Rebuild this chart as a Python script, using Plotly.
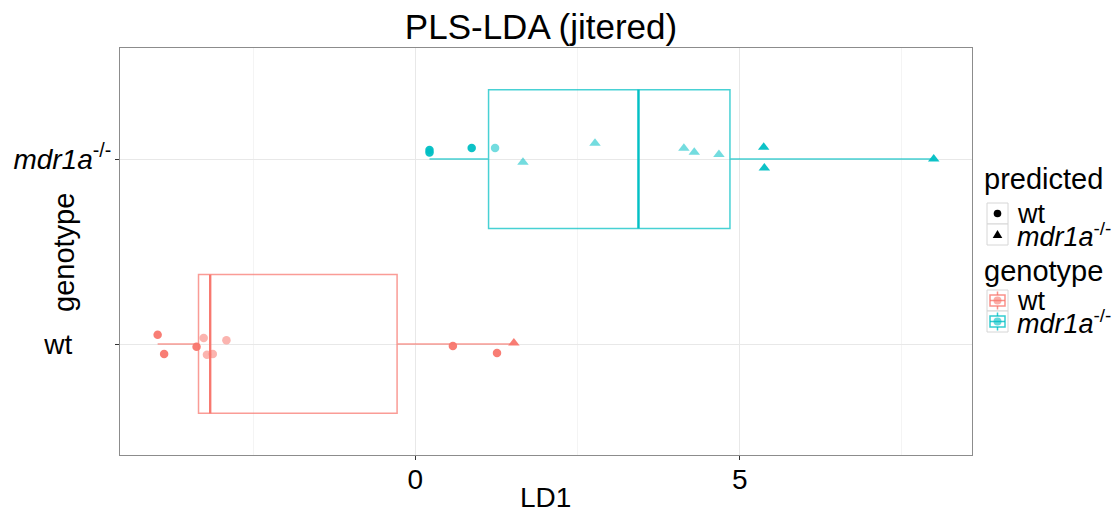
import plotly.graph_objects as go

# ---------------- data ----------------
genotypes = ["wt", "mdr1a"]
genotype_labels = ["wt", "<i>mdr1a</i><sup>-/-</sup>"]
genotype_pos = [1, 2]
legend_titles = ["predicted", "genotype"]

# jittered points, wt genotype
wt_ld1 = [-3.97, -3.87, -3.37, -3.26, -2.91, -3.21, -3.12, 0.58, 1.26, 1.52]
wt_jitter = [0.050, -0.054, -0.015, 0.032, 0.020, -0.058, -0.054, -0.011, -0.049, 0.005]
wt_pred = ["wt", "wt", "wt", "wt", "wt", "wt", "wt", "wt", "wt", "mdr1a"]
wt_alpha = [0.95, 0.95, 0.95, 0.55, 0.55, 0.55, 0.55, 0.95, 0.95, 0.95]

# jittered points, mdr1a genotype
mdr_ld1 = [0.22, 0.22, 0.87, 1.23, 1.66, 2.77, 4.14, 4.30, 4.68, 5.37, 5.38, 7.99]
mdr_jitter = [0.049, 0.035, 0.059, 0.059, -0.018, 0.085, 0.058, 0.036, 0.024, 0.063, -0.049, 0.0]
mdr_pred = ["wt", "wt", "wt", "wt", "mdr1a", "mdr1a", "mdr1a", "mdr1a", "mdr1a", "mdr1a", "mdr1a", "mdr1a"]
mdr_alpha = [0.95, 0.95, 0.95, 0.55, 0.55, 0.55, 0.55, 0.55, 0.55, 0.95, 0.95, 0.95]

# box statistics (min, q1, median, q3, max) per genotype
box_min = [-3.97, 0.22]
box_q1 = [-3.34, 1.13]
box_median = [-3.16, 3.44]
box_q3 = [-0.28, 4.85]
box_max = [1.52, 7.99]

x_ticks = [0, 5]

# ---------------- styling ----------------
FONT = "Liberation Sans, Arial, sans-serif"
OFF = 8                     # page body margin offset in the browser
W, H = 1120 - OFF, 516 - OFF
PL, PR, PT, PB = 120, 972, 48, 455   # panel edges in screen pixels
col_rgb = {"wt": (248, 118, 109), "mdr1a": (0, 191, 196)}
symbols = {"wt": "circle", "mdr1a": "triangle-up"}
sizes = {"wt": 8.5, "mdr1a": 10}
BOX_W = 0.75


def rgba(rgb, a):
    return "rgba(%d,%d,%d,%.2f)" % (rgb[0], rgb[1], rgb[2], a)


def px(x):
    return (x - PL) / (PR - PL)


def py(y):
    return (PB - y) / (PB - PT)


fig = go.Figure()

# boxes
for i, g in enumerate(genotypes):
    fig.add_trace(go.Box(
        orientation="h",
        y=[genotype_pos[i]],
        q1=[box_q1[i]], median=[box_median[i]], q3=[box_q3[i]],
        lowerfence=[box_min[i]], upperfence=[box_max[i]],
        width=BOX_W, whiskerwidth=0,
        fillcolor="rgba(0,0,0,0)",
        line=dict(color=rgba(col_rgb[g], 0.72), width=1.5),
        name=genotype_labels[i],
        hoverinfo="skip",
    ))
    # thicker median line, as in the reference
    fig.add_trace(go.Scatter(
        x=[box_median[i], box_median[i]],
        y=[genotype_pos[i] - BOX_W / 2, genotype_pos[i] + BOX_W / 2],
        mode="lines", line=dict(color=rgba(col_rgb[g], 0.95), width=2.4),
        hoverinfo="skip",
    ))

# points
groups = [
    ("wt", 1, wt_ld1, wt_jitter, wt_pred, wt_alpha),
    ("mdr1a", 2, mdr_ld1, mdr_jitter, mdr_pred, mdr_alpha),
]
for g, pos, xs, js, preds, alphas in groups:
    for p in ["wt", "mdr1a"]:
        idx = [k for k in range(len(xs)) if preds[k] == p]
        if not idx:
            continue
        fig.add_trace(go.Scatter(
            x=[xs[k] for k in idx],
            y=[pos + js[k] for k in idx],
            mode="markers",
            marker=dict(symbol=symbols[p], size=sizes[p],
                        color=[rgba(col_rgb[g], alphas[k]) for k in idx],
                        line=dict(width=0)),
        ))

# ---------------- legend (drawn as annotations + shapes) ----------------
annotations = []
shapes = []
KEY_L, KEY_R, KEY_H = 987, 1008, 21
TXT_X = 1015
legend_blocks = [(179, 203), (271, 290)]   # title centre y, first key top y
for b, (ty, ktop) in enumerate(legend_blocks):
    annotations.append(dict(text=legend_titles[b], xref="paper", yref="paper",
                            x=px(982), y=py(ty), xanchor="left", yanchor="middle",
                            showarrow=False, font=dict(size=29, family=FONT, color="black")))
    for i, g in enumerate(genotypes):
        top = ktop + i * KEY_H
        cy = top + KEY_H / 2
        cx = (KEY_L + KEY_R) / 2
        shapes.append(dict(type="rect", xref="paper", yref="paper",
                           x0=px(KEY_L), x1=px(KEY_R), y0=py(top), y1=py(top + KEY_H),
                           line=dict(color="#D6D6D6", width=1), fillcolor="white"))
        if b == 0:
            if g == "wt":
                shapes.append(dict(type="circle", xref="paper", yref="paper",
                                   x0=px(cx - 3.8), x1=px(cx + 3.8), y0=py(cy - 3.8), y1=py(cy + 3.8),
                                   line=dict(width=0), fillcolor="black"))
            else:
                path = "M %f %f L %f %f L %f %f Z" % (
                    px(cx - 4.8), py(cy + 3.6), px(cx + 4.8), py(cy + 3.6), px(cx), py(cy - 4.6))
                shapes.append(dict(type="path", xref="paper", yref="paper", path=path,
                                   line=dict(width=0), fillcolor="black"))
        else:
            c = rgba(col_rgb[g], 0.8)
            shapes.append(dict(type="line", xref="paper", yref="paper",
                               x0=px(cx), x1=px(cx), y0=py(top + 1.5), y1=py(top + KEY_H - 1.5),
                               line=dict(color=c, width=1.5)))
            shapes.append(dict(type="rect", xref="paper", yref="paper",
                               x0=px(cx - 7.5), x1=px(cx + 7.5), y0=py(cy - 5.5), y1=py(cy + 5.5),
                               line=dict(color=c, width=1.5), fillcolor="white"))
            shapes.append(dict(type="line", xref="paper", yref="paper",
                               x0=px(cx - 7.5), x1=px(cx + 7.5), y0=py(cy), y1=py(cy),
                               line=dict(color=c, width=1.5)))
            shapes.append(dict(type="circle", xref="paper", yref="paper",
                               x0=px(cx - 4), x1=px(cx + 4), y0=py(cy - 4), y1=py(cy + 4),
                               line=dict(width=0), fillcolor=rgba(col_rgb[g], 0.6)))
        annotations.append(dict(text=genotype_labels[i], xref="paper", yref="paper",
                                x=px(TXT_X), y=py(cy), xanchor="left", yanchor="middle",
                                showarrow=False, font=dict(size=27, family=FONT, color="black")))

# axis titles
annotations.append(dict(text="genotype", xref="paper", yref="paper", x=px(64), y=py(252),
                        xanchor="center", yanchor="middle", textangle=-90, showarrow=False,
                        font=dict(size=29, family=FONT, color="black")))
annotations.append(dict(text="LD1", xref="paper", yref="paper", x=px(545), y=py(497),
                        xanchor="center", yanchor="middle", showarrow=False,
                        font=dict(size=28, family=FONT, color="black")))

# y tick labels: ggplot centred them, emulate with trailing no-break spaces on "wt"
y_ticktext = [genotype_labels[0] + "\u00a0" * 5, genotype_labels[1]]

fig.update_layout(
    width=W, height=H,
    margin=dict(l=PL - OFF, r=W - (PR - OFF), t=PT - OFF, b=H - (PB - OFF), autoexpand=False),
    paper_bgcolor="white", plot_bgcolor="white",
    font=dict(family=FONT, color="black", size=27),
    title=dict(text="PLS-LDA (jitered)", x=px(541), xref="paper", xanchor="center",
               y=1 - (27 - OFF) / H, yref="container", yanchor="middle",
               font=dict(size=35, family=FONT, color="black")),
    showlegend=False,
    xaxis=dict(range=[-4.55, 8.58], tickvals=x_ticks, ticktext=[str(v) for v in x_ticks],
               automargin=False,
               showgrid=True, gridcolor="#E8E8E8", gridwidth=1,
               minor=dict(dtick=2.5, tick0=0, showgrid=True, gridcolor="#F4F4F4", gridwidth=1),
               zeroline=False, showline=True, linecolor="#8C8C8C", linewidth=1.3, mirror=True,
               ticks="outside", ticklen=4, tickcolor="#333333", ticklabelstandoff=-5,
               tickfont=dict(size=28, family=FONT, color="black")),
    yaxis=dict(range=[0.4, 2.6], tickvals=genotype_pos, ticktext=y_ticktext,
               automargin=False,
               showgrid=True, gridcolor="#E8E8E8", gridwidth=1,
               zeroline=False, showline=True, linecolor="#8C8C8C", linewidth=1.3, mirror=True,
               ticks="outside", ticklen=4, tickcolor="#333333", ticklabelstandoff=-2,
               tickfont=dict(size=28, family=FONT, color="black")),
    annotations=annotations,
    shapes=shapes,
)

fig.write_html("out.html")
